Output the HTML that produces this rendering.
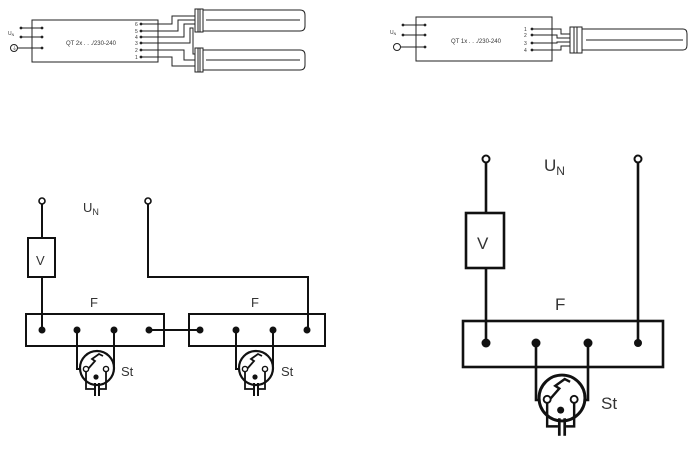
<!DOCTYPE html>
<html><head><meta charset="utf-8"><style>
html,body{margin:0;padding:0;background:#fff;width:700px;height:454px;overflow:hidden}
svg{display:block}
text{font-family:"Liberation Sans",sans-serif;fill:#333}
</style></head><body>
<svg width="700" height="454" viewBox="0 0 700 454" xmlns="http://www.w3.org/2000/svg">
<defs>
<g id="st">
  <circle cx="0" cy="0" r="17" fill="#fff" stroke="#111" stroke-width="2.2"/>
  <polyline points="-9,1 -2,-7 -5,-9 2,-14 6,-12" fill="none" stroke="#111" stroke-width="1.8"/>
  <polyline points="-11,3 -11,21 -3,21" fill="none" stroke="#111" stroke-width="1.8"/>
  <polyline points="9,3 9,21 3,21" fill="none" stroke="#111" stroke-width="1.8"/>
  <line x1="-2" y1="15" x2="-2" y2="28" stroke="#111" stroke-width="2"/>
  <line x1="2" y1="15" x2="2" y2="28" stroke="#111" stroke-width="2"/>
  <circle cx="-11" cy="1" r="2.6" fill="#fff" stroke="#111" stroke-width="1.4"/>
  <circle cx="9" cy="1" r="2.6" fill="#fff" stroke="#111" stroke-width="1.4"/>
  <circle cx="-1" cy="9" r="2.6" fill="#111"/>
</g>
</defs>

<!-- TOP LEFT -->
<g stroke="#222" stroke-width="1" fill="none">
  <rect x="32" y="20" width="126" height="42"/>
  <line x1="21" y1="28" x2="42" y2="28"/><line x1="21" y1="37" x2="42" y2="37"/><line x1="17" y1="48" x2="42" y2="48"/>
  <circle cx="14" cy="48" r="3.5"/>
  <!-- pins to lamps -->
  <polyline points="141,24 172,24 172,16 195,16"/>
  <polyline points="141,31 178,31 178,20 195,20"/>
  <polyline points="141,37 184,37 184,24 195,24"/>
  <polyline points="141,43 190,43 190,28 193,28 193,54 195,54"/>
  <polyline points="141,50 184,50 184,60 195,60"/>
  <polyline points="141,57 172,57 172,66 195,66"/>
  <rect x="195" y="9" width="8" height="23"/>
  <line x1="198" y1="9" x2="198" y2="32"/><line x1="200" y1="9" x2="200" y2="32"/>
  <path d="M203,10 H300 Q305,10 305,15 V26 Q305,31 300,31 H203"/>
  <line x1="206" y1="20" x2="300" y2="20"/>
  <rect x="195" y="48" width="8" height="24"/>
  <line x1="198" y1="48" x2="198" y2="72"/><line x1="200" y1="48" x2="200" y2="72"/>
  <path d="M203,50 H300 Q305,50 305,55 V65 Q305,70 300,70 H203"/>
  <line x1="206" y1="60" x2="300" y2="60"/>
</g>
<g fill="#222">
  <circle cx="21" cy="28" r="1.4"/><circle cx="42" cy="28" r="1.4"/>
  <circle cx="21" cy="37" r="1.4"/><circle cx="42" cy="37" r="1.4"/><circle cx="42" cy="48" r="1.4"/>
  <circle cx="141" cy="24" r="1.4"/><circle cx="141" cy="31" r="1.4"/><circle cx="141" cy="37" r="1.4"/>
  <circle cx="141" cy="43" r="1.4"/><circle cx="141" cy="50" r="1.4"/><circle cx="141" cy="57" r="1.4"/>
</g>
<text x="8" y="35" font-size="5">U<tspan font-size="3.5" dy="1">N</tspan></text>
<text x="12" y="50" font-size="5">⏚</text>
<text x="66" y="45" font-size="6">QT 2x . . ./230-240</text>
<g font-size="5"><text x="135" y="26">6</text><text x="135" y="33">5</text><text x="135" y="39">4</text><text x="135" y="45">3</text><text x="135" y="52">2</text><text x="135" y="59">1</text></g>

<!-- TOP RIGHT -->
<g stroke="#222" stroke-width="1" fill="none">
  <rect x="416" y="17" width="136" height="44"/>
  <line x1="403" y1="25" x2="425" y2="25"/><line x1="403" y1="35" x2="425" y2="35"/><line x1="400" y1="47" x2="425" y2="47"/>
  <circle cx="397" cy="47" r="3.5"/>
  <polyline points="532,29 561,29 561,34 570,34"/>
  <polyline points="532,35 557,35 557,38 570,38"/>
  <polyline points="532,43 557,43 557,42 570,42"/>
  <polyline points="532,50 561,50 561,46 570,46"/>
  <rect x="570" y="27" width="12" height="26"/>
  <line x1="574" y1="27" x2="574" y2="53"/><line x1="577" y1="27" x2="577" y2="53"/>
  <path d="M582,29 H683 Q687,29 687,34 V45 Q687,50 683,50 H582"/>
  <line x1="586" y1="40" x2="683" y2="40"/>
</g>
<g fill="#222">
  <circle cx="403" cy="25" r="1.4"/><circle cx="425" cy="25" r="1.4"/>
  <circle cx="403" cy="35" r="1.4"/><circle cx="425" cy="35" r="1.4"/><circle cx="425" cy="47" r="1.4"/>
  <circle cx="532" cy="29" r="1.4"/><circle cx="532" cy="35" r="1.4"/><circle cx="532" cy="43" r="1.4"/><circle cx="532" cy="50" r="1.4"/>
</g>
<text x="390" y="34" font-size="5">U<tspan font-size="3.5" dy="1">N</tspan></text>
<text x="451" y="43" font-size="6">QT 1x . . ./230-240</text>
<g font-size="5"><text x="524" y="31">1</text><text x="524" y="37">2</text><text x="524" y="45">3</text><text x="524" y="52">4</text></g>

<!-- BOTTOM LEFT -->
<g stroke="#111" stroke-width="2" fill="none">
  <line x1="42" y1="204" x2="42" y2="238"/>
  <rect x="28" y="238" width="27" height="39" fill="#fff"/>
  <line x1="42" y1="277" x2="42" y2="330"/>
  <polyline points="148,204 148,277 308,277 308,330"/>
  <rect x="26" y="314" width="138" height="32"/>
  <rect x="189" y="314" width="136" height="32"/>
  <line x1="149" y1="330" x2="200" y2="330"/>
  <polyline points="77,330 77,369 86,369"/>
  <polyline points="114,330 114,369 106,369"/>
  <polyline points="236,330 236,369 245,369"/>
  <polyline points="273,330 273,369 265,369"/>
</g>
<g fill="#111">
  <circle cx="42" cy="330" r="3.5"/><circle cx="77" cy="330" r="3.5"/><circle cx="114" cy="330" r="3.5"/><circle cx="149" cy="330" r="3.5"/>
  <circle cx="200" cy="330" r="3.5"/><circle cx="236" cy="330" r="3.5"/><circle cx="273" cy="330" r="3.5"/><circle cx="307" cy="330" r="3.5"/>
</g>
<circle cx="42" cy="201" r="3" fill="#fff" stroke="#111" stroke-width="1.6"/>
<circle cx="148" cy="201" r="3" fill="#fff" stroke="#111" stroke-width="1.6"/>
<use href="#st" x="97" y="368"/>
<use href="#st" x="256" y="368"/>
<text x="36" y="265" font-size="13">V</text>
<text x="83" y="212" font-size="13">U<tspan font-size="9" dy="3">N</tspan></text>
<text x="90" y="307" font-size="13">F</text>
<text x="251" y="307" font-size="13">F</text>
<text x="121" y="376" font-size="13">St</text>
<text x="281" y="376" font-size="13">St</text>

<!-- BOTTOM RIGHT -->
<g stroke="#111" stroke-width="2.6" fill="none">
  <line x1="486" y1="162" x2="486" y2="213"/>
  <rect x="466" y="213" width="38" height="55" fill="#fff"/>
  <line x1="486" y1="268" x2="486" y2="343"/>
  <line x1="638" y1="162" x2="638" y2="343"/>
  <rect x="463" y="321" width="200" height="46"/>
  <polyline points="536,343 536,400 547,400"/>
  <polyline points="588,343 588,400 575,400"/>
</g>
<g fill="#111">
  <circle cx="486" cy="343" r="4.5"/><circle cx="536" cy="343" r="4.5"/><circle cx="588" cy="343" r="4.5"/><circle cx="638" cy="343" r="4"/>
</g>
<circle cx="486" cy="159" r="3.5" fill="#fff" stroke="#111" stroke-width="2"/>
<circle cx="638" cy="159" r="3.5" fill="#fff" stroke="#111" stroke-width="2"/>
<g transform="translate(562,398) scale(1.35)"><use href="#st"/></g>
<text x="477" y="249" font-size="17">V</text>
<text x="544" y="171" font-size="17">U<tspan font-size="12" dy="4">N</tspan></text>
<text x="555" y="310" font-size="17">F</text>
<text x="601" y="409" font-size="17">St</text>
</svg>
</body></html>
